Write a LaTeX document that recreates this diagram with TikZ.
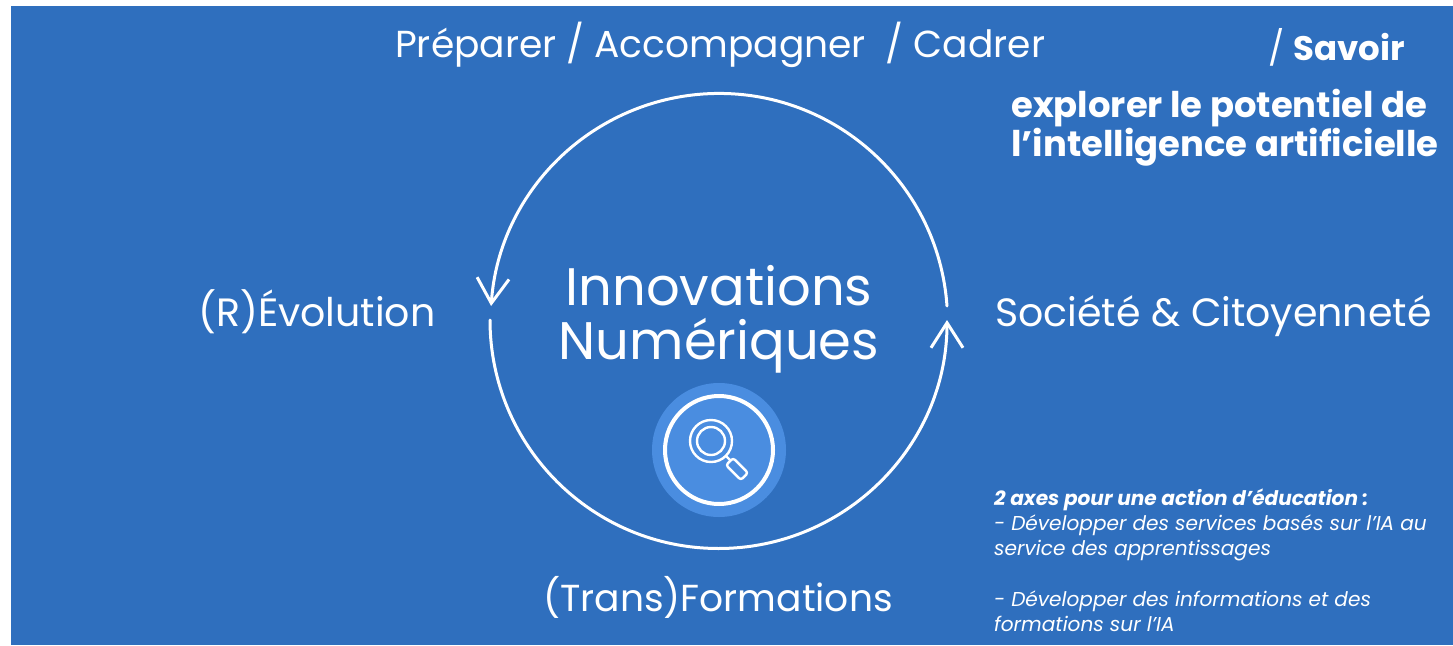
\documentclass[tikz,border=0pt]{standalone}
\usepackage{fontspec}
\setmainfont{Poppins}
\usetikzlibrary{arrows.meta}
\definecolor{fondbleu}{HTML}{2F6FBE}
\definecolor{discbleu}{HTML}{4A8DE0}
\tikzset{
  titre/.style={text=white,inner sep=0pt,font=\fontsize{37.6}{40}\selectfont},
  cote/.style={text=white,inner sep=0pt,font=\fontsize{39.5}{40}\selectfont},
  grand/.style={text=white,inner sep=0pt,align=center,font=\fontsize{52.8}{54}\selectfont},
  gras/.style={text=white,inner sep=0pt,align=left,font=\fontsize{35.4}{39}\selectfont\bfseries},
  petit/.style={text=white,inner sep=0pt,align=left,font=\fontsize{20.1}{25.2}\selectfont\itshape},
  fleche/.style={white,line width=3pt,line cap=round,-{Straight Barb[length=25pt,width=32pt,line width=3pt]}}
}
\begin{document}
\begin{tikzpicture}[x=1pt, y=-1pt]
      \useasboundingbox (0,0) rectangle (1453,645);
      \fill[fondbleu] (11,6) rectangle (1453,645);
      % cycle
      \def\rayon{228.5};
      \coordinate (haut) at (947,306);
      \coordinate (bas) at (490,320);
      \draw[fleche] (haut) arc[start angle=-4,end angle=-176,radius=\rayon];
      \draw[fleche] (bas) arc[start angle=180,end angle=0,radius=\rayon];
      % loupe
      \fill[discbleu] (719,450) circle (67);
      \draw[white,line width=4pt] (719,450) circle (54);
      \draw[white,line width=2.4pt] (711,441) circle (21) (711,441) circle (14);
      \draw[white,line width=2.4pt] (726,456) -- (731,461);
      \draw[white,line width=2.4pt,rounded corners=2.5pt,rotate around={-45:(737,469)}] (726.5,464) rectangle (747.5,474);
      % textes
      \node[titre,anchor=base west] (cadre) at (395,57) {Préparer / Accompagner \ / Cadrer};
      \node[titre,anchor=base west,font=\fontsize{34}{40}\selectfont] (savoir) at (1268,60) {/ \textbf{Savoir}};
      \node[gras,anchor=north west] (potentiel) at (1011,89) {explorer le potentiel de\\l’intelligence artificielle};
      \node[cote,anchor=base west] (evolution) at (198,326) {(R)Évolution};
      \node[cote,anchor=base west] (societe) at (995,326) {Société \& Citoyenneté};
      \node[grand] (centre) at (719,319) {Innovations\\Numériques};
      \node[titre,anchor=base] (formations) at (718,611) {(Trans)Formations};
      \node[petit,anchor=north west] (axes) at (994,488.5) {\textbf{2 axes pour une action d’éducation :}\\- Développer des services basés sur l’IA au\\service des apprentissages\\[25.2pt]- Développer des informations et des\\formations sur l’IA};
    \end{tikzpicture}
\end{document}
